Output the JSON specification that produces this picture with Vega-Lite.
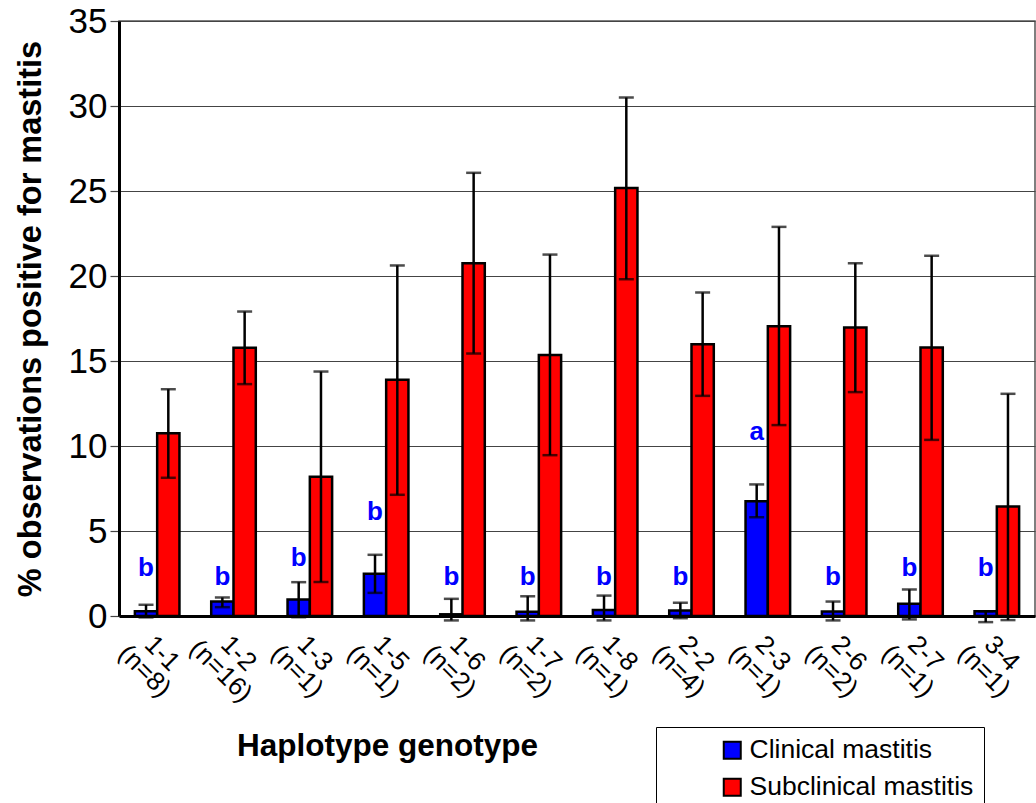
{
  "$schema": "https://vega.github.io/schema/vega-lite/v6.json",
  "width": 916,
  "height": 595,
  "autosize": {"type": "none"},
  "padding": {"left": 119, "top": 21, "right": 1, "bottom": 187},
  "background": "white",
  "config": {
    "font": "Liberation Sans",
    "view": {"stroke": "#555", "strokeWidth": 1.5},
    "axis": {"labelFont": "Liberation Sans", "titleFont": "Liberation Sans", "labelColor": "black", "titleColor": "black"}
  },
  "data": {
    "values": [
      {"genotype": "1-1 (n=8)", "series": "Clinical mastitis", "value": 0.28, "lo": -0.08, "hi": 0.66, "letter": "b", "letterY": 2.8},
      {"genotype": "1-1 (n=8)", "series": "Subclinical mastitis", "value": 10.75, "lo": 8.13, "hi": 13.34},
      {"genotype": "1-2 (n=16)", "series": "Clinical mastitis", "value": 0.85, "lo": 0.52, "hi": 1.09, "letter": "b", "letterY": 2.3},
      {"genotype": "1-2 (n=16)", "series": "Subclinical mastitis", "value": 15.78, "lo": 13.64, "hi": 17.91},
      {"genotype": "1-3 (n=1)", "series": "Clinical mastitis", "value": 0.97, "lo": -0.07, "hi": 1.99, "letter": "b", "letterY": 3.4},
      {"genotype": "1-3 (n=1)", "series": "Subclinical mastitis", "value": 8.19, "lo": 2.0, "hi": 14.38},
      {"genotype": "1-5 (n=1)", "series": "Clinical mastitis", "value": 2.48, "lo": 1.36, "hi": 3.6, "letter": "b", "letterY": 6.1},
      {"genotype": "1-5 (n=1)", "series": "Subclinical mastitis", "value": 13.89, "lo": 7.13, "hi": 20.62},
      {"genotype": "1-6 (n=2)", "series": "Clinical mastitis", "value": 0.1, "lo": -0.26, "hi": 1.01, "letter": "b", "letterY": 2.3},
      {"genotype": "1-6 (n=2)", "series": "Subclinical mastitis", "value": 20.75, "lo": 15.44, "hi": 26.07},
      {"genotype": "1-7 (n=2)", "series": "Clinical mastitis", "value": 0.25, "lo": -0.26, "hi": 1.16, "letter": "b", "letterY": 2.3},
      {"genotype": "1-7 (n=2)", "series": "Subclinical mastitis", "value": 15.36, "lo": 9.46, "hi": 21.26},
      {"genotype": "1-8 (n=1)", "series": "Clinical mastitis", "value": 0.35, "lo": -0.26, "hi": 1.2, "letter": "b", "letterY": 2.3},
      {"genotype": "1-8 (n=1)", "series": "Subclinical mastitis", "value": 25.17, "lo": 19.81, "hi": 30.5},
      {"genotype": "2-2 (n=4)", "series": "Clinical mastitis", "value": 0.32, "lo": -0.13, "hi": 0.78, "letter": "b", "letterY": 2.3},
      {"genotype": "2-2 (n=4)", "series": "Subclinical mastitis", "value": 15.99, "lo": 12.95, "hi": 19.03},
      {"genotype": "2-3 (n=1)", "series": "Clinical mastitis", "value": 6.75, "lo": 5.81, "hi": 7.74, "letter": "a", "letterY": 10.8},
      {"genotype": "2-3 (n=1)", "series": "Subclinical mastitis", "value": 17.05, "lo": 11.23, "hi": 22.89},
      {"genotype": "2-6 (n=2)", "series": "Clinical mastitis", "value": 0.27, "lo": -0.26, "hi": 0.85, "letter": "b", "letterY": 2.3},
      {"genotype": "2-6 (n=2)", "series": "Subclinical mastitis", "value": 16.97, "lo": 13.17, "hi": 20.75},
      {"genotype": "2-7 (n=1)", "series": "Clinical mastitis", "value": 0.72, "lo": -0.2, "hi": 1.56, "letter": "b", "letterY": 2.8},
      {"genotype": "2-7 (n=1)", "series": "Subclinical mastitis", "value": 15.79, "lo": 10.36, "hi": 21.19},
      {"genotype": "3-4 (n=1)", "series": "Clinical mastitis", "value": 0.28, "lo": -0.36, "hi": 0.28, "letter": "b", "letterY": 2.8},
      {"genotype": "3-4 (n=1)", "series": "Subclinical mastitis", "value": 6.44, "lo": -0.24, "hi": 13.07}
    ]
  },
  "encoding": {
    "x": {
      "field": "genotype", "type": "nominal", "sort": null,
      "scale": {"paddingInner": 0.416, "paddingOuter": 0.208},
      "axis": {
        "title": "Haplotype genotype",
        "labelAngle": 45, "labelAlign": "center", "labelBaseline": "middle",
        "labelPadding": 37, "labelOffset": 5, "labelFontSize": 26, "labelLineHeight": 25,
        "labelExpr": "split(datum.label, ' ')",
        "ticks": false, "tickSize": 0, "labelOverlap": false, "labelBound": false,
        "domainColor": "black", "domainWidth": 3, "grid": false,
        "titleFontSize": 31.5, "titleFontWeight": "bold",
        "titleX": 268, "titleY": 130, "titleBaseline": "middle", "titleAlign": "center"
      }
    },
    "xOffset": {
      "field": "series", "type": "nominal",
      "sort": ["Clinical mastitis", "Subclinical mastitis"],
      "scale": {"paddingInner": 0, "paddingOuter": 0}
    },
    "y": {
      "type": "quantitative",
      "title": "% observations positive for mastitis",
      "scale": {"domain": [0, 35], "nice": false, "zero": true},
      "axis": {
        "values": [0, 5, 10, 15, 20, 25, 30, 35],
        "grid": true, "gridColor": "#444", "gridWidth": 1.2,
        "domainColor": "black", "domainWidth": 3,
        "tickColor": "#444", "tickSize": 9, "tickWidth": 1.2,
        "labelFontSize": 35, "labelPadding": 3,
        "titleFontSize": 32.5, "titleFontWeight": "bold",
        "titleX": -89, "titleBaseline": "middle"
      }
    }
  },
  "layer": [
    {
      "mark": {"type": "bar", "stroke": "black", "strokeWidth": 2.5},
      "encoding": {
        "y": {"field": "value"},
        "color": {
          "field": "series", "type": "nominal",
          "scale": {"domain": ["Clinical mastitis", "Subclinical mastitis"], "range": ["#0000FF", "#FF0000"]},
          "legend": {
            "title": " ", "titleOrient": "left", "titleFontSize": 1, "titlePadding": 53,
            "orient": "none", "legendX": 537, "legendY": 706,
            "padding": 10, "strokeColor": "black", "fillColor": "white",
            "symbolType": "square", "symbolSize": 289, "symbolStrokeColor": "black", "symbolStrokeWidth": 2,
            "labelFontSize": 26.5, "labelFont": "Liberation Sans", "labelColor": "black",
            "labelExpr": "datum.label + '\u00a0\u00a0\u00a0\u00a0\u00a0\u00a0\u00a0\u00a0\u00a0\u00a0\u00a0\u00a0'",
            "labelOffset": 4, "rowPadding": 10, "labelLimit": 600
          }
        }
      }
    },
    {
      "mark": {"type": "rule", "color": "black", "strokeWidth": 2.5},
      "encoding": {
        "y": {"field": "lo"},
        "y2": {"field": "hi"}
      }
    },
    {
      "mark": {"type": "tick", "color": "black", "thickness": 2.5, "size": 15, "orient": "horizontal"},
      "encoding": {
        "y": {"field": "hi"}
      }
    },
    {
      "mark": {"type": "tick", "color": "black", "thickness": 2.5, "size": 15, "orient": "horizontal"},
      "encoding": {
        "y": {"field": "lo"}
      }
    },
    {
      "transform": [{"filter": "datum.letter != null"}],
      "mark": {"type": "text", "fontSize": 26, "fontWeight": "bold", "color": "#0000FF", "baseline": "middle", "align": "center"},
      "encoding": {
        "y": {"field": "letterY"},
        "text": {"field": "letter"}
      }
    }
  ]
}
